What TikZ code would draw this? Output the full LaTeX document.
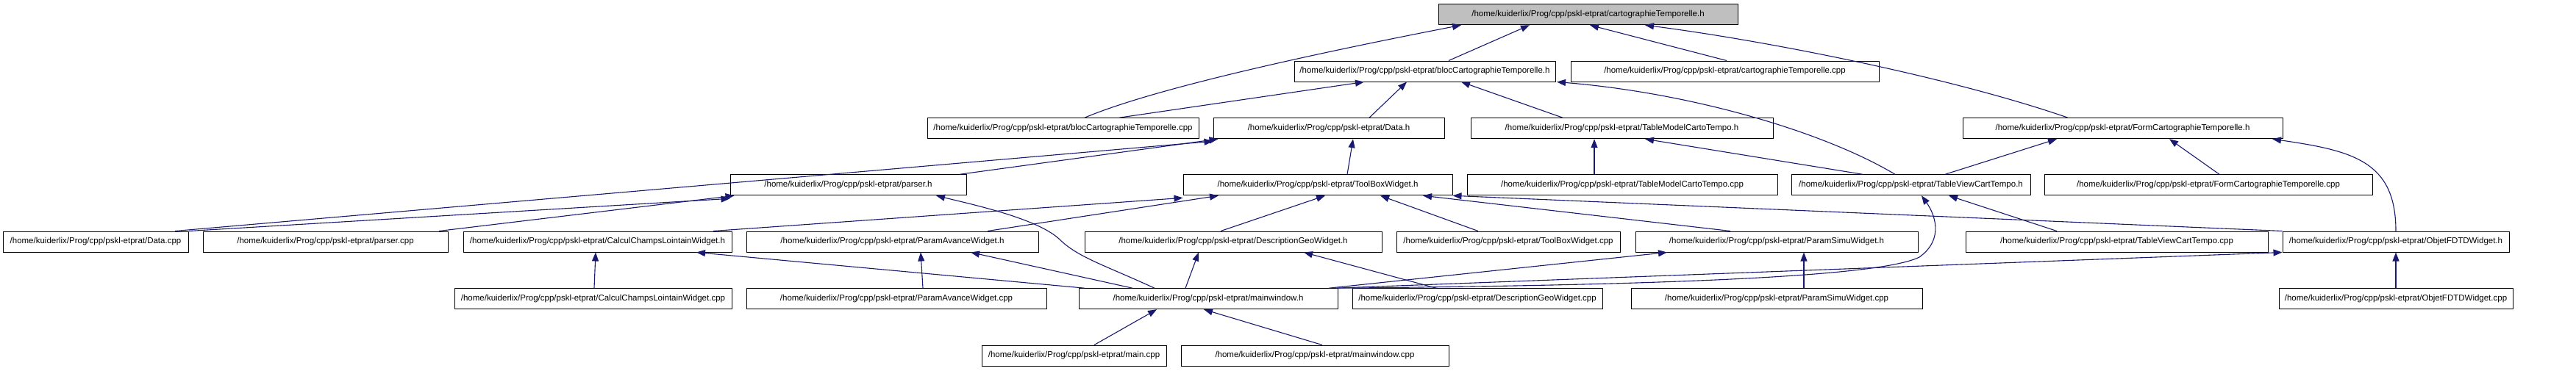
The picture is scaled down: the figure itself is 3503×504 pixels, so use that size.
\documentclass[tikz,border=0pt]{standalone}
\usepackage{fontspec}
\setmainfont{Liberation Sans}
\usetikzlibrary{arrows.meta}
\definecolor{edgeblue}{RGB}{25,25,112}
\definecolor{rootgray}{RGB}{191,191,191}
\newcommand{\kpath}{/home/kuiderlix/Prog/cpp/pskl-etprat/}
\begin{document}
\begin{tikzpicture}[x=1pt,y=-1pt,
  filebox/.style={draw=black, fill=white, line width=1pt, minimum height=28pt, inner sep=0pt, font=\fontsize{11.5}{13}\selectfont},
  rootbox/.style={filebox, fill=rootgray},
  dep/.style={draw=edgeblue, line width=1.1pt, -{Triangle[length=12pt,width=9pt]}}]
\useasboundingbox (0,0) rectangle (3503,504);
\fill[white] (0,0) rectangle (3503,504);
% row 1
\node[rootbox, minimum width=407] (cTh) at (2159.5,19.7) {\kpath cartographieTemporelle.h};
% row 2
\node[filebox, minimum width=355] (bcTh) at (1937.5,97) {\kpath blocCartographieTemporelle.h};
\node[filebox, minimum width=419] (cTcpp) at (2345.5,97) {\kpath cartographieTemporelle.cpp};
% row 3
\node[filebox, minimum width=369] (bcTcpp) at (1445.5,174.7) {\kpath blocCartographieTemporelle.cpp};
\node[filebox, minimum width=314] (Datah) at (1807,174.7) {\kpath Data.h};
\node[filebox, minimum width=411] (TMCTh) at (2205.5,174.7) {\kpath TableModelCartoTempo.h};
\node[filebox, minimum width=435] (FCTh) at (2886.5,174.7) {\kpath FormCartographieTemporelle.h};
% row 4
\node[filebox, minimum width=321] (parserh) at (1153.5,251.8) {\kpath parser.h};
\node[filebox, minimum width=366] (TBWh) at (1792,251.8) {\kpath ToolBoxWidget.h};
\node[filebox, minimum width=422] (TMCTcpp) at (2206,251.8) {\kpath TableModelCartoTempo.cpp};
\node[filebox, minimum width=325] (TVCTh) at (2598.5,251.8) {\kpath TableViewCartTempo.h};
\node[filebox, minimum width=446] (FCTcpp) at (3003,251.8) {\kpath FormCartographieTemporelle.cpp};
% row 5
\node[filebox, minimum width=252] (Datacpp) at (130,329) {\kpath Data.cpp};
\node[filebox, minimum width=333] (parsercpp) at (442.5,329) {\kpath parser.cpp};
\node[filebox, minimum width=365] (CCLWh) at (812.5,329) {\kpath CalculChampsLointainWidget.h};
\node[filebox, minimum width=397] (PAWh) at (1213.5,329) {\kpath ParamAvanceWidget.h};
\node[filebox, minimum width=404] (DGWh) at (1677,329) {\kpath DescriptionGeoWidget.h};
\node[filebox, minimum width=304] (TBWcpp) at (2051,329) {\kpath ToolBoxWidget.cpp};
\node[filebox, minimum width=384] (PSWh) at (2416,329) {\kpath ParamSimuWidget.h};
\node[filebox, minimum width=411] (TVCTcpp) at (2878.5,329) {\kpath TableViewCartTempo.cpp};
\node[filebox, minimum width=308] (OFh) at (3258,329) {\kpath ObjetFDTDWidget.h};
% row 6
\node[filebox, minimum width=377] (CCLWcpp) at (806.5,406.7) {\kpath CalculChampsLointainWidget.cpp};
\node[filebox, minimum width=408] (PAWcpp) at (1219,406.7) {\kpath ParamAvanceWidget.cpp};
\node[filebox, minimum width=352] (mwh) at (1643,406.7) {\kpath mainwindow.h};
\node[filebox, minimum width=340] (DGWcpp) at (2009,406.7) {\kpath DescriptionGeoWidget.cpp};
\node[filebox, minimum width=396] (PSWcpp) at (2416,406.7) {\kpath ParamSimuWidget.cpp};
\node[filebox, minimum width=318] (OFcpp) at (3258,406.7) {\kpath ObjetFDTDWidget.cpp};
% row 7
\node[filebox, minimum width=251] (maincpp) at (1460.5,484) {\kpath main.cpp};
\node[filebox, minimum width=364] (mwcpp) at (1788,484) {\kpath mainwindow.cpp};

% edges into cartographieTemporelle.h
\draw[dep] ([xshift=29.5]bcTcpp.north) .. controls +(85,-36) and +(-237,46) .. ([xshift=-172.5]cTh.south);
\draw[dep] ([xshift=32.5]bcTh.north) -- ([xshift=-79.5]cTh.south);
\draw[dep] ([xshift=2.5]cTcpp.north) -- ([xshift=2.5]cTh.south);
\draw[dep] ([xshift=-74.5]FCTh.north) .. controls +(-162,-56) and +(163,21) .. ([xshift=77.5]cTh.south);
% edges into blocCartographieTemporelle.h
\draw[dep] ([xshift=76.5]bcTcpp.north) -- ([xshift=-82.5]bcTh.south);
\draw[dep] ([xshift=55]Datah.north) -- ([xshift=-24.5]bcTh.south);
\draw[dep] ([xshift=-80.5]TMCTh.north) -- ([xshift=49.5]bcTh.south);
\draw[dep] ([xshift=-21.5]TVCTh.north) .. controls +(-97,-58) and +(183,15) .. ([xshift=179.5]bcTh.south);
% edges into Data.h
\draw[dep] ([xshift=108]Datacpp.north) -- ([yshift=-3]Datah.south west);
\draw[dep] ([xshift=151.5]parserh.north) -- ([xshift=7]Datah.south west);
\draw[dep] ([xshift=40]TBWh.north) -- ([xshift=33]Datah.south);
% edges into parser.h
\draw[dep] ([xshift=127]Datacpp.north) -- ([yshift=-4]parserh.south west);
\draw[dep] ([xshift=154.5]parsercpp.north) -- ([xshift=6]parserh.south west);
\draw[dep] ([xshift=-73]mwh.north) .. controls (1500,360) and (1465,350) .. (1440,325) .. controls (1410,298) and (1330,280) .. ([xshift=119.5]parserh.south);
% edges into TableModelCartoTempo.h
\draw[dep] ([xshift=-38]TMCTcpp.north) -- ([xshift=-37.5]TMCTh.south);
\draw[dep] ([xshift=-65.5]TVCTh.north) -- ([xshift=31.5]TMCTh.south);
% edges into FormCartographieTemporelle.h
\draw[dep] ([xshift=46.5]TVCTh.north) -- ([xshift=-89.5]FCTh.south);
\draw[dep] ([xshift=15]FCTcpp.north) -- ([xshift=63.5]FCTh.south);
\draw[dep] (OFh.north) .. controls +(0,-95) and +(110,16) .. ([xshift=203.5]FCTh.south);
% edges into ToolBoxWidget.h
\draw[dep] ([xshift=157.5]CCLWh.north) -- ([yshift=-3]TBWh.south west);
\draw[dep] ([xshift=129.5]PAWh.north) -- ([xshift=-135]TBWh.south);
\draw[dep] ([xshift=-17]DGWh.north) -- ([xshift=10]TBWh.south);
\draw[dep] ([xshift=-41]TBWcpp.north) -- ([xshift=85]TBWh.south);
\draw[dep] ([xshift=-63]PSWh.north) -- ([xshift=143]TBWh.south);
\draw[dep] (OFh.north west) -- (TBWh.south east);
% edges into TableViewCartTempo.h
\draw[dep] ([xshift=-81.5]TVCTcpp.north) -- ([xshift=51.5]TVCTh.south);
\draw[dep] ([xshift=-1]mwh.north east) .. controls (2300,388) and (2560,375) .. (2610,350) .. controls (2645,325) and (2630,290) .. ([xshift=14.5]TVCTh.south);
% edges from mainwindow.h
\draw[dep] ([xshift=-168]mwh.north) -- ([xshift=134.5]CCLWh.south);
\draw[dep] ([xshift=-103]mwh.north) -- ([xshift=106.5]PAWh.south);
\draw[dep] ([xshift=-31]mwh.north) -- ([xshift=-47]DGWh.south);
\draw[dep] ([xshift=164]mwh.north) -- ([xshift=-149]PSWh.south);
\draw[dep] ([xshift=-4]mwh.north east) -- (OFh.south west);
% .cpp into own headers
\draw[dep] ([xshift=1.5]CCLWcpp.north) -- ([xshift=-2.5]CCLWh.south);
\draw[dep] ([xshift=36]PAWcpp.north) -- ([xshift=38.5]PAWh.south);
\draw[dep] ([xshift=-56]DGWcpp.north) -- ([xshift=96]DGWh.south);
\draw[dep] ([xshift=37]PSWcpp.north) -- ([xshift=37]PSWh.south);
\draw[dep] (OFcpp.north) -- (OFh.south);
% into mainwindow.h
\draw[dep] ([xshift=27.5]maincpp.north) -- ([xshift=-70]mwh.south);
\draw[dep] ([xshift=10]mwcpp.north) -- ([xshift=-6]mwh.south);
\end{tikzpicture}
\end{document}
